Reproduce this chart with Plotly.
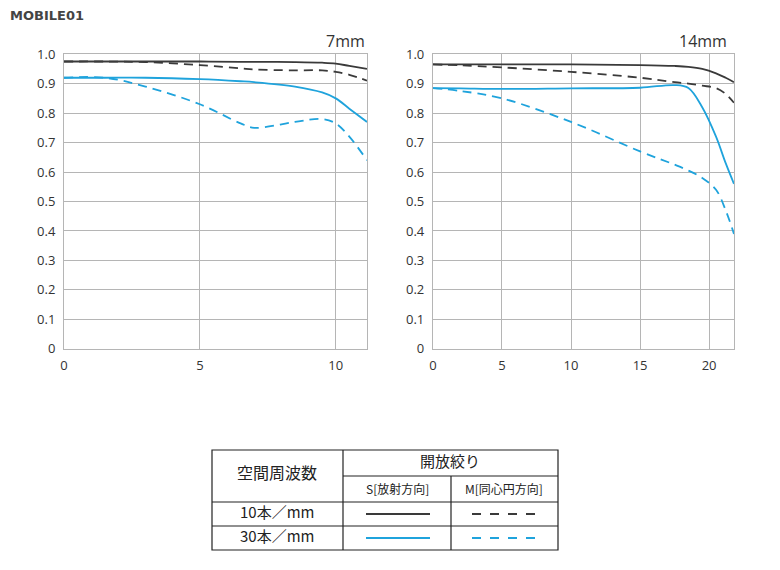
import plotly.graph_objects as go
from plotly.subplots import make_subplots

# ── data ──
x7 = [0, 1.5, 3, 5, 6.5, 7, 8.5, 9.5, 10, 10.5, 11.15]
s10_7 = [0.975, 0.975, 0.975, 0.975, 0.974, 0.974, 0.973, 0.971, 0.968, 0.96, 0.95]
m10_7 = [0.975, 0.975, 0.973, 0.963, 0.952, 0.948, 0.945, 0.945, 0.94, 0.93, 0.91]
s30_7 = [0.92, 0.92, 0.92, 0.915, 0.908, 0.905, 0.89, 0.87, 0.85, 0.815, 0.77]
m30_7 = [0.92, 0.92, 0.89, 0.83, 0.765, 0.75, 0.77, 0.78, 0.765, 0.72, 0.64]

x14 = [0, 2, 5, 10, 15, 17.5, 18.5, 19.5, 20.5, 21.2, 21.8]
s10_14 = [0.965, 0.965, 0.965, 0.965, 0.963, 0.96, 0.957, 0.95, 0.935, 0.92, 0.905]
m10_14 = [0.965, 0.962, 0.955, 0.94, 0.92, 0.905, 0.9, 0.893, 0.885, 0.865, 0.835]
s30_14 = [0.885, 0.884, 0.882, 0.884, 0.886, 0.895, 0.885, 0.82, 0.72, 0.63, 0.56]
m30_14 = [0.885, 0.875, 0.85, 0.77, 0.67, 0.625, 0.605, 0.58, 0.54, 0.47, 0.39]

yticks = [round(i * 0.1, 1) for i in range(11)]
ytext = ["0" if v == 0 else f"{v:.1f}" for v in yticks]

BLACK = "#3a3a3a"
BLUE = "#1fa3dc"
GRID = "#b5b5b5"
DASH = "9px,6px"

fig = make_subplots(rows=1, cols=2)

panels = [(1, x7, s10_7, m10_7, s30_7, m30_7), (2, x14, s10_14, m10_14, s30_14, m30_14)]
for col, xs, s10, m10, s30, m30 in panels:
    for ys, color, dash in [(s10, BLACK, "solid"), (m10, BLACK, DASH),
                            (s30, BLUE, "solid"), (m30, BLUE, DASH)]:
        fig.add_trace(go.Scatter(x=xs, y=ys, mode="lines", showlegend=False,
                                 line=dict(color=color, dash=dash, width=1.8, shape="spline")),
                      row=1, col=col)

axis_common = dict(showgrid=True, gridcolor=GRID, gridwidth=1, showline=True, linecolor=GRID,
                   mirror=True, zeroline=False, ticks="outside", ticklen=5, tickcolor="rgba(0,0,0,0)",
                   automargin=False, tickfont=dict(family="Open Sans", size=13, color="#333"))

fig.update_layout(
    width=780, height=570, paper_bgcolor="white", plot_bgcolor="white",
    margin=dict(l=0, r=0, t=0, b=0),
    xaxis=dict(domain=[0.082, 0.4705], range=[0, 11.15], tickvals=[0, 5, 10], **axis_common),
    xaxis2=dict(domain=[0.555, 0.941], range=[0, 21.8], tickvals=[0, 5, 10, 15, 20], **axis_common),
    yaxis=dict(domain=[0.388, 0.905], range=[0, 1.0], tickvals=yticks, ticktext=ytext, **axis_common),
    yaxis2=dict(domain=[0.388, 0.905], range=[0, 1.0], tickvals=yticks, ticktext=ytext, **axis_common),
)

fig.add_annotation(text="7mm", x=0.4705, y=0.905, xref="paper", yref="paper", xanchor="right",
                   yanchor="bottom", showarrow=False, font=dict(family="Open Sans", size=16, color="#333"))
fig.add_annotation(text="14mm", x=0.935, y=0.905, xref="paper", yref="paper", xanchor="right",
                   yanchor="bottom", showarrow=False, font=dict(family="Open Sans", size=16, color="#333"))
fig.add_annotation(text="<b>MOBILE01</b>", x=0.01, y=0.99, xref="paper", yref="paper", xanchor="left",
                   yanchor="top", showarrow=False, font=dict(family="DejaVu Sans", size=13, color="#444"))

# ── legend table ──
def px(x):
    return x / 780

def py(y):
    return 1 - y / 570

line = dict(color="#222", width=1.2)
fig.add_shape(type="rect", x0=px(212), x1=px(558), y0=py(450), y1=py(550), xref="paper", yref="paper", line=line)
for y, x0 in [(476, 343), (502, 212), (526, 212)]:
    fig.add_shape(type="line", x0=px(x0), x1=px(558), y0=py(y), y1=py(y), xref="paper", yref="paper", line=line)
fig.add_shape(type="line", x0=px(343), x1=px(343), y0=py(450), y1=py(550), xref="paper", yref="paper", line=line)
fig.add_shape(type="line", x0=px(451), x1=px(451), y0=py(476), y1=py(550), xref="paper", yref="paper", line=line)

# CJK font sits high in its box, so text is nudged down ~10px
jp = dict(family="Noto Sans CJK JP", color="#222")
cells = [("空間周波数", 277, 486, 16), ("開放絞り", 450, 473, 15), ("S[放射方向]", 397, 499, 12),
         ("M[同心円方向]", 504, 499, 12), ("10本／mm", 277, 524, 15), ("30本／mm", 277, 548, 15)]
for t, x, y, s in cells:
    fig.add_annotation(text=t, x=px(x), y=py(y), xref="paper", yref="paper", showarrow=False,
                       font=dict(size=s, **jp))
for y, color in [(514, BLACK), (538, BLUE)]:
    fig.add_shape(type="line", x0=px(366), x1=px(430), y0=py(y), y1=py(y), xref="paper", yref="paper",
                  line=dict(color=color, width=2))
    fig.add_shape(type="line", x0=px(472), x1=px(538), y0=py(y), y1=py(y), xref="paper", yref="paper",
                  line=dict(color=color, width=2, dash="dash"))

fig.write_html("out.html", config={"displayModeBar": False},
               post_script="document.body.style.margin='0';")
